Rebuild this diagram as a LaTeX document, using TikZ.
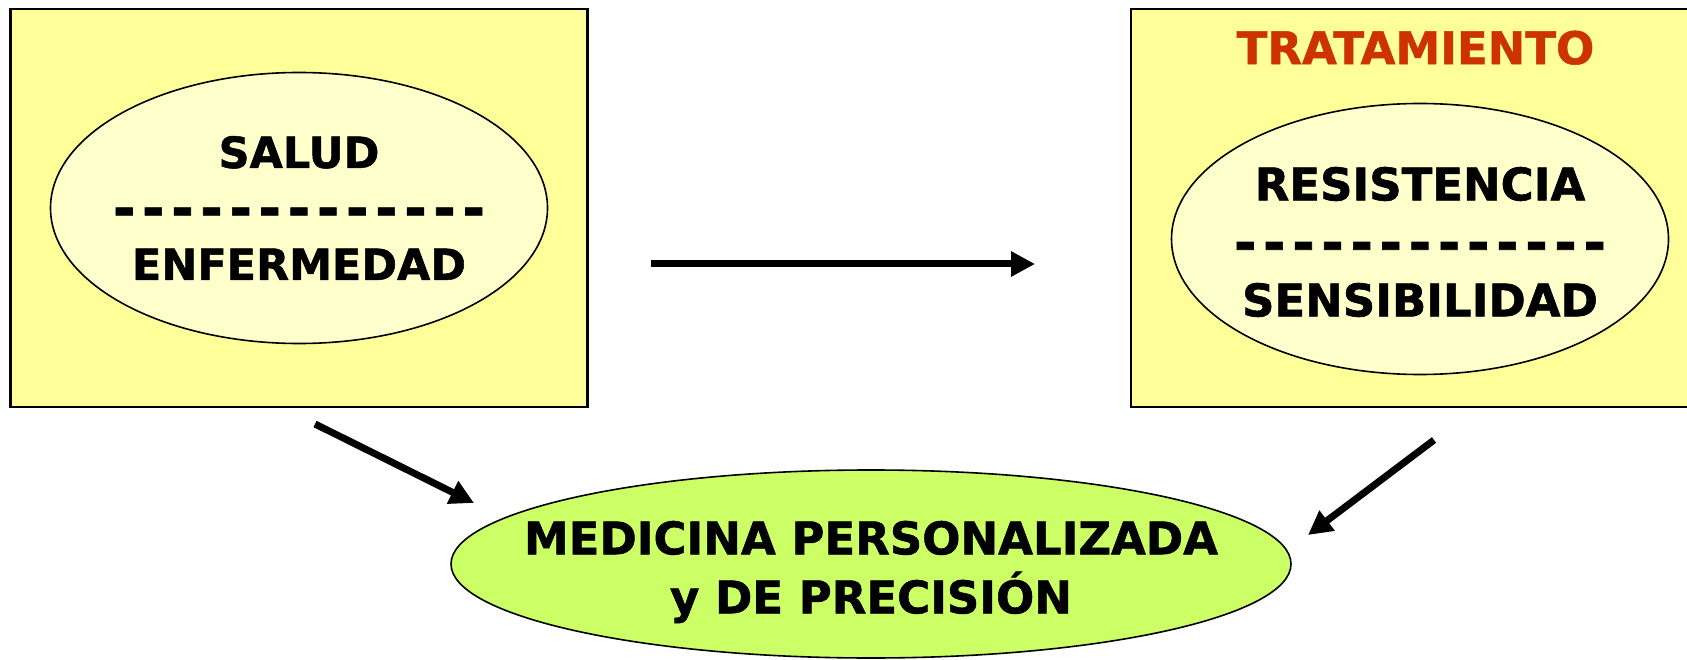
\documentclass[tikz,border=0pt]{standalone}
\usepackage{fontspec}
\setmainfont{DejaVu Sans}[BoldFeatures={FakeBold=1.2}]
\usetikzlibrary{shapes.geometric,positioning,arrows.meta}
\definecolor{boxyellow}{HTML}{FFFF99}
\definecolor{paleyellow}{HTML}{FFFFCC}
\definecolor{medgreen}{HTML}{CCFF66}
\definecolor{tratred}{HTML}{CC3300}
\newcommand{\dashrow}{\raisebox{-3pt}[0pt][0pt]{\hbox to 372pt{\fontsize{54}{54}\selectfont-\hfill-\hfill-\hfill-\hfill-\hfill-\hfill-\hfill-\hfill-\hfill-\hfill-\hfill-\hfill-}}}

\begin{document}
\begin{tikzpicture}[x=1pt,y=-1pt,
	bigbox/.style={draw,line width=2.5pt,fill=boxyellow,minimum width=577pt,minimum height=398pt,inner sep=0pt},
	inell/.style={ellipse,draw,line width=1.6pt,fill=paleyellow,minimum width=497pt,minimum height=271pt,inner sep=0pt},
	eltext/.style={align=center,inner sep=0pt},
	bigarrow/.style={line width=7pt,-{Triangle[length=24pt,width=24pt]}}]
		\useasboundingbox (0,0) rectangle (1687,660);
		\node[bigbox](salbox) at (299,208) {};
		\node[bigbox,minimum width=569pt](tratbox) at (1415.5,208) {};
		\node[inell](salud) at (299,208) {};
		\node[eltext,font=\fontsize{43}{56}\selectfont\bfseries](saludtxt) at (salud) {SALUD\\\dashrow\\ENFERMEDAD};
		\node[inell](resist) at (1420,239) {};
		\node[eltext,font=\fontsize{45}{58}\selectfont\bfseries](resisttxt) at ([yshift=-3pt]resist.center) {RESISTENCIA\\\dashrow\\SENSIBILIDAD};
		\node[text=tratred,font=\fontsize{45}{54}\selectfont\bfseries,inner sep=0pt](tratlabel) at ([yshift=-40pt]tratbox.north) {TRATAMIENTO};
		\node[ellipse,draw,line width=1.6pt,fill=medgreen,minimum width=840pt,minimum height=188pt,inner sep=0pt](medicina) at (871,564) {};
		\node[eltext,font=\fontsize{45}{59}\selectfont\bfseries](medtxt) at ([yshift=-8pt]medicina.center) {MEDICINA PERSONALIZADA\\y DE PRECISIÓN};
		\coordinate (h1) at (651,264);
		\coordinate (h2) at (1035,264);
		\coordinate (l1) at (315,424);
		\coordinate (l2) at (474,503);
		\coordinate (r1) at (1434,440);
		\coordinate (r2) at (1308,535);
		\draw[bigarrow] (h1) -- (h2);
		\draw[bigarrow] (l1) -- (l2);
		\draw[bigarrow] (r1) -- (r2);
\end{tikzpicture}
\end{document}
